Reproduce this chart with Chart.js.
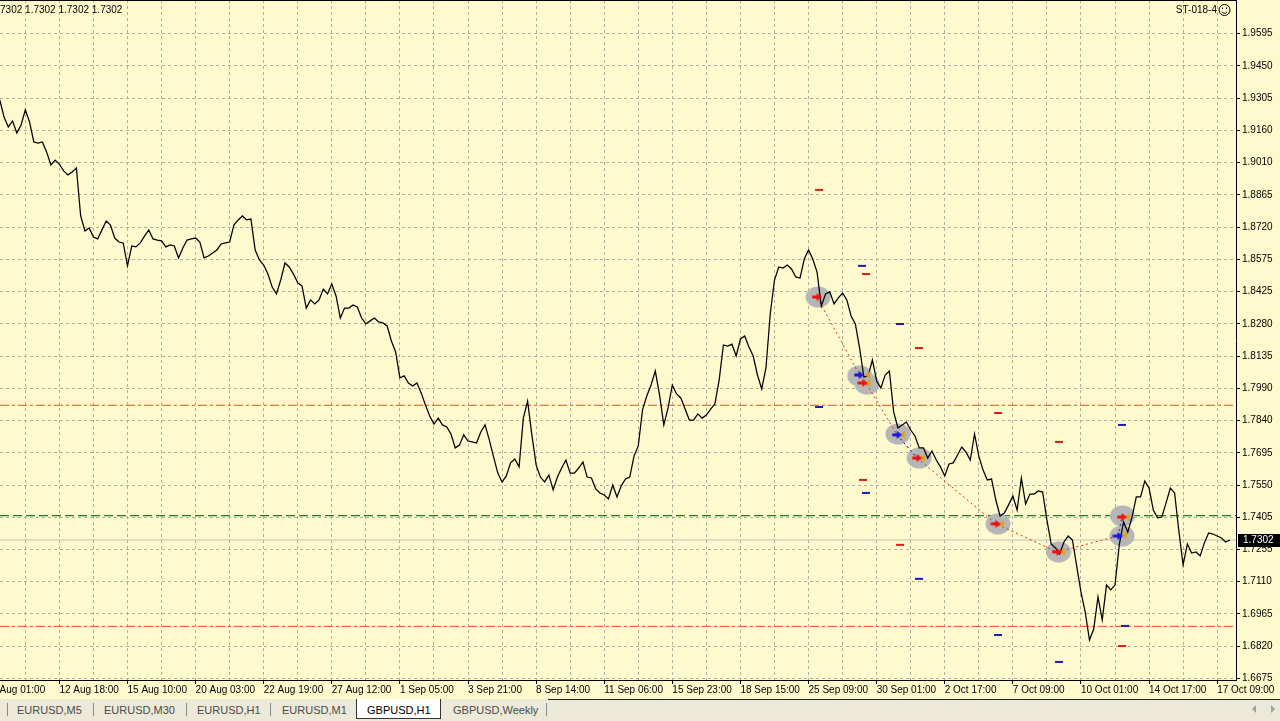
<!DOCTYPE html>
<html><head><meta charset="utf-8">
<script src="https://cdn.jsdelivr.net/npm/chart.js@4.4.1/dist/chart.umd.min.js"></script>
<style>
html,body{margin:0;padding:0;width:1280px;height:721px;overflow:hidden;background:#ECE9D8;font-family:"Liberation Sans",Arial,sans-serif;}
#plot{position:absolute;left:0;top:0;width:1280px;height:699px;background:#FFFACD;}
#c{display:block;width:1280px;height:699px;}
#tabs{position:absolute;left:0;top:699px;width:1280px;height:22px;background:#ECE9D8;}
.tab{position:absolute;top:5px;font-size:11px;line-height:13px;color:#4a4a4a;white-space:nowrap;}
.sep{position:absolute;top:4px;width:1px;height:13px;background:#8a8a8a;}
#active{position:absolute;left:356px;top:0;width:83px;height:19px;background:#fff;border:1px solid #333;border-top:none;}
#topline{position:absolute;left:548px;top:0;width:732px;height:1px;background:#222;}
.arr{position:absolute;top:6px;width:0;height:0;border-top:4px solid transparent;border-bottom:4px solid transparent;}
</style>
</head><body>
<div id="plot"><canvas id="c" width="1280" height="699"></canvas></div>
<div id="tabs">
  <div id="topline"></div>
  <div class="sep" style="left:7px"></div>
  <div class="tab" style="left:17px">EURUSD,M5</div>
  <div class="sep" style="left:93px"></div>
  <div class="tab" style="left:104px">EURUSD,M30</div>
  <div class="sep" style="left:186px"></div>
  <div class="tab" style="left:197px">EURUSD,H1</div>
  <div class="sep" style="left:270px"></div>
  <div class="tab" style="left:282px">EURUSD,M1</div>
  <div id="active"></div>
  <div class="tab" style="left:367px;color:#000">GBPUSD,H1</div>
  <div class="tab" style="left:453px">GBPUSD,Weekly</div>
  <div class="sep" style="left:546px"></div>
  <div class="arr" style="left:1252px;border-right:4px solid #a0a0a0"></div>
  <div class="arr" style="left:1271px;border-left:4px solid #a0a0a0"></div>
</div>
<script>
// ---------------- DATA ----------------
// H1 close prices, GBPUSD, sampled every 4 bars from the left edge of the view
const pricesPart1 = [1.9294,1.9217,1.9172,1.9199,1.9145,1.9181,1.9249,1.9194,1.9104,1.9099,1.9104,1.9059,1.9000,1.9022,1.9004,1.8973,1.8955,1.8968,1.8986,1.8769,1.8701,1.8715,1.8674,1.8665,1.8706,1.8746,1.8728,1.8669,1.8651,1.8647,1.8543,1.8633,1.8629,1.8647,1.8678,1.8706,1.8665,1.8660,1.8656,1.8629,1.8638,1.8633,1.8579,1.8624,1.8660,1.8665,1.8669,1.8651,1.8579,1.8588,1.8601,1.8615,1.8642,1.8647,1.8651,1.8728,1.8751,1.8769];
const pricesPart2 = [1.8751,1.8755,1.8615,1.8570,1.8547,1.8506,1.8447,1.8416,1.8479,1.8556,1.8538,1.8506,1.8466,1.8452,1.8352,1.8389,1.8371,1.8389,1.8438,1.8416,1.8461,1.8407,1.8307,1.8352,1.8352,1.8366,1.8357,1.8307,1.8280,1.8294,1.8307,1.8289,1.8285,1.8271,1.8203,1.8153,1.8036,1.8045,1.8013,1.7999,1.8013,1.7968,1.7913,1.7863,1.7827,1.7854,1.7823,1.7814,1.7782,1.7719,1.7732,1.7778,1.7750,1.7746,1.7741,1.7791,1.7823,1.7755];
const pricesPart3 = [1.7678,1.7605,1.7565,1.7592,1.7651,1.7669,1.7633,1.7854,1.7931,1.7778,1.7642,1.7587,1.7565,1.7596,1.7529,1.7587,1.7628,1.7664,1.7605,1.7605,1.7628,1.7655,1.7587,1.7583,1.7533,1.7515,1.7506,1.7488,1.7551,1.7497,1.7547,1.7578,1.7587,1.7682,1.7728,1.7891,1.7954,1.8004,1.8067,1.7959,1.7823,1.7900,1.8004,1.7963,1.7945,1.7895,1.7845,1.7845,1.7873,1.7854,1.7868,1.7895,1.7918,1.8026,1.8185,1.8180,1.8189,1.8135];
const pricesPart4 = [1.8212,1.8226,1.8176,1.8135,1.8049,1.7986,1.8081,1.8325,1.8479,1.8538,1.8533,1.8547,1.8529,1.8493,1.8488,1.8574,1.8615,1.8574,1.8515,1.8361,1.8416,1.8425,1.8371,1.8398,1.8420,1.8389,1.8316,1.8280,1.8171,1.8040,1.8045,1.8117,1.8022,1.7990,1.8049,1.8067,1.7882,1.7809,1.7823,1.7836,1.7800,1.7773,1.7719,1.7719,1.7673,1.7705,1.7664,1.7633,1.7592,1.7646,1.7651,1.7687,1.7723,1.7700,1.7664,1.7782,1.7682,1.7619];
const pricesPart5 = [1.7574,1.7578,1.7483,1.7411,1.7424,1.7461,1.7501,1.7438,1.7583,1.7465,1.7510,1.7510,1.7524,1.7519,1.7393,1.7284,1.7266,1.7239,1.7293,1.7320,1.7302,1.7184,1.7067,1.6976,1.6849,1.6899,1.7044,1.6940,1.7098,1.7076,1.7098,1.7280,1.7384,1.7338,1.7406,1.7497,1.7497,1.7569,1.7537,1.7438,1.7402,1.7406,1.7470,1.7537,1.7515,1.7343,1.7189,1.7284,1.7243,1.7248,1.7230,1.7289,1.7334,1.7329,1.7320,1.7311,1.7293,1.7302];
const FIRST_BAR = -24, BAR_STEP = 4;

// time axis labels (one every 64 H1 bars)
const timeLabels = ['12 Aug 18:00','15 Aug 10:00','20 Aug 03:00','22 Aug 19:00','27 Aug 12:00','1 Sep 05:00','3 Sep 21:00','8 Sep 14:00','11 Sep 06:00','15 Sep 23:00','18 Sep 15:00','25 Sep 09:00','30 Sep 01:00','2 Oct 17:00','7 Oct 09:00','10 Oct 01:00','14 Oct 17:00','17 Oct 09:00'];
const firstTimeLabel = '8 Aug 01:00';
// price axis
const yTickValues = [1.9595,1.9449,1.9303,1.9157,1.9011,1.8865,1.8719,1.8573,1.8427,1.8281,1.8135,1.7989,1.7843,1.7697,1.7551,1.7405,1.7259,1.7113,1.6967,1.6821,1.6675];
const yTickLabels = ['1.9595','1.9450','1.9305','1.9160','1.9010','1.8865','1.8720','1.8575','1.8425','1.8280','1.8135','1.7990','1.7840','1.7695','1.7550','1.7405','1.7255','1.7110','1.6965','1.6820','1.6675'];

// horizontal levels
const redLevels = [1.7912, 1.6911];
const greenLevel = 1.7412;
const bidPrice = 1.7302;
const headerText = '1.7302 1.7302 1.7302 1.7302';
const indicatorName = 'ST-018-4';

// signal markers (bar, price)
const circleBars   = [745, 784, 791, 820, 840, 914, 971, 1031, 1030.6];
const circlePrices = [1.8402, 1.8045, 1.8008, 1.7782, 1.7673, 1.7375, 1.7248, 1.7411, 1.7320];
const redArrowBars   = [744, 787, 838, 912, 969.5, 1030.6];
const redArrowPrices = [1.8402, 1.8013, 1.7673, 1.7375, 1.7248, 1.7406];
const blueArrowBars   = [783.5, 819.2, 1026.8];
const blueArrowPrices = [1.8049, 1.7778, 1.7320];
const goldBars   = [791, 792, 824, 842.7, 917, 974.2, 1035.3, 1032.5];
const goldPrices = [1.8049, 1.8013, 1.7778, 1.7673, 1.7375, 1.7248, 1.7406, 1.7325];
const pathBars   = [744, 784.4, 790, 819.2, 838, 912.2, 969.5, 1026.8];
const pathPrices = [1.8402, 1.8045, 1.8013, 1.7778, 1.7673, 1.7375, 1.7248, 1.7320];
const bluePathBars   = [819.2, 838, 900, 1026.8, 1030.6];
const bluePathPrices = [1.7778, 1.7673, null, 1.7320, 1.7406];
const redDashBars   = [745.9, 790, 839.8, 914.1, 971.4, 787.2, 822, 1030.6];
const redDashPrices = [1.8887, 1.8506, 1.8171, 1.7877, 1.7746, 1.7574, 1.7280, 1.6822];
const blueDashBars   = [786.3, 822, 745.9, 790, 839.8, 914.1, 971.4, 1030.6, 1033.4];
const blueDashPrices = [1.8543, 1.8280, 1.7904, 1.7515, 1.7126, 1.6872, 1.6750, 1.7823, 1.6913];

// ---------------- LAYOUT CONSTANTS ----------------
const X_MIN = -23.8, X_MAX = 1137.7, GRID_STEP = 32, LABEL_START = 32, LABEL_STEP = 64;
const Y_MIN = 1.66682, Y_MAX = 1.97467;
const GRID = '#B3AF9B';

// ---------------- BUILD ----------------
const prices = [].concat(pricesPart1, pricesPart2, pricesPart3, pricesPart4, pricesPart5);
const pricePts = prices.map((p, i) => ({x: FIRST_BAR + i * BAR_STEP, y: p}));
const pts = (xs, ys) => xs.map((x, i) => ({x, y: ys[i]}));
const hline = v => [{x: X_MIN, y: v}, {x: X_MAX, y: v}];

function arrowIcon(fill) {
  const c = document.createElement('canvas'); c.width = 11; c.height = 9;
  const g = c.getContext('2d'); g.fillStyle = fill;
  g.beginPath(); g.moveTo(0.5,3); g.lineTo(5,3); g.lineTo(5,0.5); g.lineTo(10.5,4.5);
  g.lineTo(5,8.5); g.lineTo(5,6); g.lineTo(0.5,6); g.closePath(); g.fill();
  return c;
}
function goldIcon() {
  const c = document.createElement('canvas'); c.width = 6; c.height = 9;
  const g = c.getContext('2d'); g.fillStyle = '#D9A520';
  g.beginPath(); g.moveTo(5.8,0.5); g.lineTo(0.5,4.5); g.lineTo(5.8,8.5); g.closePath(); g.fill();
  return c;
}
function blobIcon() {
  const c = document.createElement('canvas'); c.width = 26; c.height = 22;
  const g = c.getContext('2d'); g.fillStyle = '#B6B6B6';
  g.beginPath(); g.ellipse(13, 11, 12.5, 10.5, 0, 0, Math.PI * 2); g.fill();
  return c;
}
const redArrow = arrowIcon('#F01010'), blueArrow = arrowIcon('#1818E0'), gold = goldIcon(), blob = blobIcon();

const isLabelTick = v => v !== undefined && (v - LABEL_START) % LABEL_STEP === 0 && v >= LABEL_START;

const overlay = {
  id: 'overlay',
  afterDraw(chart) {
    const {ctx, chartArea: a, scales: {x, y}} = chart;
    ctx.save();
    ctx.strokeStyle = '#000'; ctx.lineWidth = 1;
    ctx.beginPath(); ctx.moveTo(0, 0.5); ctx.lineTo(a.right, 0.5); ctx.stroke();
    ctx.font = '10px "Liberation Sans"'; ctx.textBaseline = 'middle'; ctx.fillStyle = '#000';
    ctx.textAlign = 'left';
    ctx.fillText(headerText, -8.3, 10);
    ctx.fillText(firstTimeLabel, x.getPixelForValue(LABEL_START - LABEL_STEP), a.bottom + 10);
    ctx.textAlign = 'right';
    ctx.fillText(indicatorName, 1217, 10);
    // smiley icon
    ctx.beginPath(); ctx.arc(1224.5, 10, 5.5, 0, Math.PI * 2); ctx.stroke();
    ctx.beginPath(); ctx.arc(1224.5, 10.3, 3, 0.15 * Math.PI, 0.85 * Math.PI); ctx.stroke();
    ctx.fillRect(1222, 7.5, 1, 1.5); ctx.fillRect(1226, 7.5, 1, 1.5);
    // current price box
    const py = Math.round(y.getPixelForValue(bidPrice));
    ctx.fillStyle = '#000'; ctx.fillRect(a.right + 2, py - 6, 44, 13);
    ctx.fillStyle = '#fff'; ctx.textAlign = 'left';
    ctx.fillText(bidPrice.toFixed(4), a.right + 7, py + 0.5);
    ctx.restore();
  }
};

Chart.defaults.font.family = '"Liberation Sans", Arial, sans-serif';
new Chart(document.getElementById('c'), {
  type: 'line',
  data: { datasets: [
    {data: hline(redLevels[0]), borderColor: '#E8491E', borderWidth: 1, borderDash: [9,3,3,3], pointRadius: 0, order: 12},
    {data: hline(redLevels[1]), borderColor: '#E8491E', borderWidth: 1, borderDash: [9,3,3,3], pointRadius: 0, order: 12},
    {data: hline(greenLevel), borderColor: '#1A7F1A', borderWidth: 1.2, borderDash: [9,4], pointRadius: 0, order: 12},
    {data: hline(bidPrice), borderColor: '#C0C0C0', borderWidth: 1, pointRadius: 0, order: 11},
    {data: pts(circleBars, circlePrices), showLine: false, pointStyle: blob, pointRadius: 5, order: 10},
    {data: pts(pathBars, pathPrices), borderColor: '#E02A1A', borderWidth: 1, borderDash: [2,3], pointRadius: 0, order: 9},
    {data: pricePts, borderColor: '#000', borderWidth: 1.25, pointRadius: 0, tension: 0, order: 8},
    {data: pts(bluePathBars, bluePathPrices), borderColor: '#2020C0', borderWidth: 1, borderDash: [2,3], pointRadius: 0, spanGaps: false, order: 7},
    {data: pts(redDashBars, redDashPrices), showLine: false, pointStyle: 'line', pointRadius: 4, pointBorderWidth: 2, pointBorderColor: '#E01818', order: 6},
    {data: pts(blueDashBars, blueDashPrices), showLine: false, pointStyle: 'line', pointRadius: 4, pointBorderWidth: 2, pointBorderColor: '#1A1AB0', order: 6},
    {data: pts(goldBars, goldPrices), showLine: false, pointStyle: gold, pointRadius: 4, order: 5},
    {data: pts(redArrowBars, redArrowPrices), showLine: false, pointStyle: redArrow, pointRadius: 5, order: 4},
    {data: pts(blueArrowBars, blueArrowPrices), showLine: false, pointStyle: blueArrow, pointRadius: 5, order: 4}
  ]},
  options: {
    responsive: false, animation: false, devicePixelRatio: 1, events: [],
    layout: { padding: 0, autoPadding: false },
    plugins: { legend: {display: false}, tooltip: {enabled: false} },
    scales: {
      x: {
        type: 'linear', min: X_MIN, max: X_MAX, bounds: 'data', position: 'bottom',
        afterBuildTicks: s => { const t = []; for (let v = 0; v <= X_MAX; v += GRID_STEP) t.push({value: v}); s.ticks = t; },
        afterFit: s => { s.height = 19; s.paddingLeft = 0; s.paddingRight = 0; },
        ticks: { autoSkip: false, maxRotation: 0, minRotation: 0, align: 'start', padding: 0, color: '#000', font: {size: 10},
          callback: v => isLabelTick(v) ? (timeLabels[(v - LABEL_START) / LABEL_STEP] || '') : '' },
        grid: { color: GRID, lineWidth: 1, drawTicks: true, tickLength: 4,
          tickColor: c => (c.tick && isLabelTick(c.tick.value)) ? '#000' : 'rgba(0,0,0,0)' },
        border: { display: true, color: '#000', width: 1, dash: [3,3] }
      },
      y: {
        type: 'linear', min: Y_MIN, max: Y_MAX, bounds: 'data', position: 'right',
        afterBuildTicks: s => { s.ticks = yTickValues.map(v => ({value: v})); },
        afterFit: s => { s.width = 44; s.paddingTop = 0; s.paddingBottom = 0; },
        ticks: { autoSkip: false, padding: 2, color: '#000', font: {size: 10}, callback: (v, i) => yTickLabels[i] },
        grid: { color: GRID, lineWidth: 1, drawTicks: true, tickLength: 4, tickColor: '#000' },
        border: { display: true, color: '#000', width: 1, dash: [3,3] }
      }
    }
  },
  plugins: [overlay]
});
</script>
</body></html>
